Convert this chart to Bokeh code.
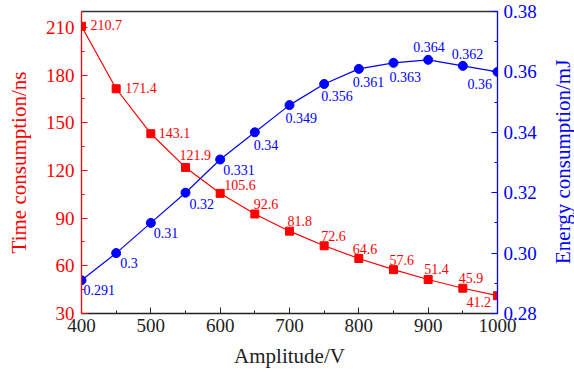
from bokeh.plotting import figure
from bokeh.layouts import row
from bokeh.models import LinearAxis, Range1d, SingleIntervalTicker, ColumnDataSource, PrintfTickFormatter, Div
from bokeh.core.properties import value
from bokeh.embed import file_html
from bokeh.resources import INLINE

amplitude = [400, 450, 500, 550, 600, 650, 700, 750, 800, 850, 900, 950, 1000]
time_ns = [210.7, 171.4, 143.1, 121.9, 105.6, 92.6, 81.8, 72.6, 64.6, 57.6, 51.4, 45.9, 41.2]
energy_mj = [0.291, 0.3, 0.31, 0.32, 0.331, 0.34, 0.349, 0.356, 0.361, 0.363, 0.364, 0.362, 0.36]
time_labels = ["210.7", "171.4", "143.1", "121.9", "105.6", "92.6", "81.8", "72.6", "64.6", "57.6", "51.4", "45.9", "41.2"]
energy_labels = ["0.291", "0.3", "0.31", "0.32", "0.331", "0.34", "0.349", "0.356", "0.361", "0.363", "0.364", "0.362", "0.36"]

# label offsets (screen px, up = positive) - styling
time_dx = [9, 9, 8, -6, 4, -1, -2, -3, -6, -4, -4, -4, -31]
time_dy = [1, 1, 1, 12, 8, 10, 10, 10, 10, 10, 10, 10, -6]
energy_dx = [2, 4, 3, 4, 3, -1, -4, -3, -6, -4, -15, -11, -30]
energy_dy = [-10, -10, -10, -11, -11, -13, -13, -12, -13, -14, 13, 12, -12]

RED = "#ff0000"
BLUE = "#0000ff"
FONT = "Liberation Serif"

p = figure(width=552, height=372, output_backend="svg", toolbar_location=None,
           x_range=Range1d(400, 1000), y_range=Range1d(30, 220),
           min_border_left=81, min_border_right=55, min_border_top=11, min_border_bottom=59)
p.outline_line_color = None
p.xgrid.visible = False
p.ygrid.visible = False
p.background_fill_color = "white"
p.border_fill_color = "white"
p.extra_y_ranges = {"energy": Range1d(0.28, 0.38)}

def style_axis(ax, color, ticker):
    ax.ticker = ticker
    ax.axis_line_color = color
    ax.axis_line_width = 1.3
    ax.major_tick_line_color = color
    ax.minor_tick_line_color = color
    ax.major_tick_in = 6
    ax.major_tick_out = 0
    ax.minor_tick_in = 3
    ax.minor_tick_out = 0
    ax.major_label_text_color = color
    ax.major_label_text_font = FONT
    ax.major_label_text_font_size = "19px"
    ax.axis_label_text_color = color
    ax.axis_label_text_font = FONT
    ax.axis_label_text_font_size = "21px"
    ax.axis_label_text_font_style = "normal"

# bottom axis
xa = p.xaxis[0]
style_axis(xa, "#222222", SingleIntervalTicker(interval=100, num_minor_ticks=2))
xa.axis_label = "Amplitude/V"
xa.major_label_standoff = 5
xa.axis_label_standoff = 9

# left axis
ya = p.yaxis[0]
style_axis(ya, RED, SingleIntervalTicker(interval=30, num_minor_ticks=2))
ya.axis_label = "Time consumption/ns"
ya.major_label_standoff = 7
ya.axis_label_standoff = 12

# right axis
ra = LinearAxis(y_range_name="energy")
style_axis(ra, BLUE, SingleIntervalTicker(interval=0.02, num_minor_ticks=2))
ra.formatter = PrintfTickFormatter(format="%.2f")
ra.major_label_standoff = 6
p.add_layout(ra, "right")

# top frame line
ta = LinearAxis(ticker=SingleIntervalTicker(interval=100, num_minor_ticks=0))
ta.axis_line_color = "#333333"
ta.axis_line_width = 1.5
ta.major_tick_line_color = None
ta.minor_tick_line_color = None
ta.major_label_text_font_size = "0px"
ta.major_label_text_color = None
p.add_layout(ta, "above")

src_t = ColumnDataSource(dict(x=amplitude, y=time_ns, lab=time_labels,
                              dx=time_dx, dy=[-d for d in time_dy]))
src_e = ColumnDataSource(dict(x=amplitude, y=energy_mj, lab=energy_labels,
                              dx=energy_dx, dy=[-d for d in energy_dy]))

p.line("x", "y", source=src_t, color=RED, line_width=1.2)
p.scatter("x", "y", source=src_t, marker="square", size=8, color=RED)
p.line("x", "y", source=src_e, color=BLUE, line_width=1.2, y_range_name="energy")
p.scatter("x", "y", source=src_e, marker="circle", size=9, color=BLUE, y_range_name="energy")

p.text("x", "y", text="lab", source=src_t, x_offset="dx", y_offset="dy",
       text_font=value(FONT), text_font_size="14px", text_color=RED,
       text_baseline="middle", text_align="left")
p.text("x", "y", text="lab", source=src_e, x_offset="dx", y_offset="dy",
       text_font=value(FONT), text_font_size="14px", text_color=BLUE,
       text_baseline="middle", text_align="left", y_range_name="energy")

# right axis title (reads bottom-to-top)
right_title = Div(
    text=("<div style=\"width:22px;height:324px;writing-mode:vertical-rl;"
          "transform:rotate(180deg);text-align:center;font-family:'Liberation Serif';"
          "font-size:21px;line-height:22px;color:#0000ff;white-space:nowrap;\">"
          "Energy consumption/mJ</div>"),
    width=22, height=372, margin=0)

layout = row(p, right_title, spacing=0)
open("out.html", "w").write(file_html(layout, INLINE))
